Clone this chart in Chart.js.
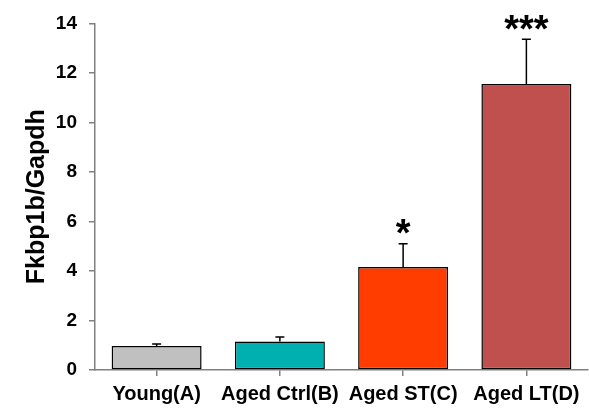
<!DOCTYPE html>
<html>
<head>
<meta charset="utf-8">
<script src="https://cdn.jsdelivr.net/npm/chart.js@4/dist/chart.umd.min.js"></script>
<style>
  html, body { margin: 0; padding: 0; background: #fff; }
  #chart { display: block; }
</style>
</head>
<body>
<canvas id="chart" width="589" height="408"></canvas>
<script>
// data
var categories = ["Young(A)", "Aged Ctrl(B)", "Aged ST(C)", "Aged LT(D)"];
var means = [0.97, 1.15, 4.16, 11.55];
var errors = [0.08, 0.18, 0.94, 1.81];
var stars = ["", "", "*", "***"];
var barColors = ["#C0C0C0", "#00B0B0", "#FF3D00", "#C0504D"];
var yTicks = [0, 2, 4, 6, 8, 10, 12, 14];

var FONT = "'Liberation Sans', Arial, sans-serif";
var axisColor = "#808080";

// error bars (upper only) + significance stars
var errorBars = {
    id: "errorBars",
    afterDatasetsDraw: function (chart) {
        var ctx = chart.ctx;
        var y = chart.scales.y;
        var meta = chart.getDatasetMeta(0);
        ctx.save();
        ctx.strokeStyle = "#000";
        ctx.lineWidth = 1.5;
        meta.data.forEach(function (bar, i) {
            var top = y.getPixelForValue(means[i] + errors[i]);
            ctx.beginPath();
            ctx.moveTo(bar.x, bar.y);
            ctx.lineTo(bar.x, top);
            ctx.moveTo(bar.x - 4.5, top);
            ctx.lineTo(bar.x + 4.5, top);
            ctx.stroke();
            if (stars[i]) {
                ctx.fillStyle = "#000";
                ctx.font = "bold 38px " + FONT;
                ctx.textAlign = "center";
                ctx.textBaseline = "alphabetic";
                ctx.fillText(stars[i], bar.x, top + 2.5);
            }
        });
        ctx.restore();
    }
};

new Chart(document.getElementById("chart").getContext("2d"), {
    type: "bar",
    data: {
        labels: categories,
        datasets: [{
            data: means,
            backgroundColor: barColors,
            borderColor: "#000",
            borderWidth: 1.5,
            borderSkipped: false,
            barPercentage: 0.73,
            categoryPercentage: 1
        }]
    },
    options: {
        responsive: false,
        animation: false,
        devicePixelRatio: 1,
        layout: { padding: { top: 19, right: 1, left: 0, bottom: 0 } },
        plugins: {
            legend: { display: false },
            tooltip: { enabled: false }
        },
        scales: {
            x: {
                grid: {
                    offset: false,
                    drawOnChartArea: false,
                    drawTicks: true,
                    tickLength: 6,
                    color: axisColor,
                    lineWidth: 1.5
                },
                border: { color: axisColor, width: 1.5 },
                ticks: {
                    autoSkip: false,
                    maxRotation: 0,
                    minRotation: 0,
                    padding: 6,
                    color: "#000",
                    font: { family: FONT, size: 20, weight: "bold" }
                },
                afterFit: function (scale) { scale.height = 38; }
            },
            y: {
                min: 0,
                max: 14,
                afterBuildTicks: function (scale) {
                    scale.ticks = yTicks.map(function (v) { return { value: v }; });
                },
                grid: {
                    drawOnChartArea: false,
                    drawTicks: true,
                    tickLength: 6,
                    color: axisColor,
                    lineWidth: 1.5
                },
                border: { color: axisColor, width: 1.5 },
                ticks: {
                    padding: 12,
                    color: "#000",
                    font: { family: FONT, size: 19, weight: "bold" }
                },
                title: {
                    display: true,
                    text: "Fkbp1b/Gapdh",
                    color: "#000",
                    padding: { top: 22, bottom: 0 },
                    font: { family: FONT, size: 25, weight: "bold" }
                },
                afterFit: function (scale) { scale.width = 95; }
            }
        }
    },
    plugins: [errorBars]
});
</script>
</body>
</html>
